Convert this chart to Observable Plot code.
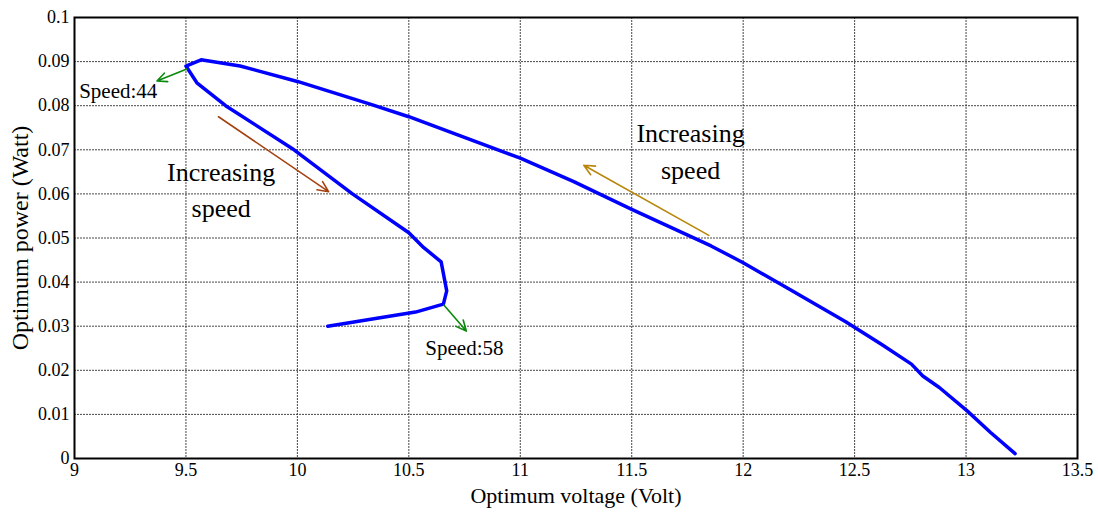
<!DOCTYPE html>
<html><head><meta charset="utf-8">
<script src="https://cdn.jsdelivr.net/npm/d3@7"></script>
<script src="https://cdn.jsdelivr.net/npm/@observablehq/plot@0.6"></script>
<style>html,body{margin:0;padding:0;background:#fff;}</style>
</head><body><div id="chart"></div>
<script>
// Curve: from the low-power end (13.22 V) up to the corner near 9.5 V, then down the inner branch
const voltage = [13.22, 13.11, 13.005, 12.88, 12.806, 12.755, 12.62, 12.46, 12.2, 12.0, 11.856, 11.5, 11.24, 11.0, 10.5, 10.33, 10.0, 9.743, 9.568, 9.5, 9.549, 9.678, 9.985, 10.247, 10.5, 10.567, 10.645, 10.67, 10.655, 10.53, 10.136];
const power   = [0.0011, 0.0059, 0.0108, 0.0161, 0.0187, 0.0214, 0.0259, 0.0310, 0.0386, 0.0444, 0.0482, 0.0565, 0.0628, 0.0681, 0.0775, 0.0803, 0.0855, 0.0890, 0.0904, 0.0890, 0.0852, 0.0800, 0.0700, 0.0600, 0.0512, 0.0478, 0.0446, 0.0380, 0.0350, 0.0332, 0.0300];

const xTicks = [9, 9.5, 10, 10.5, 11, 11.5, 12, 12.5, 13, 13.5];
const yTicks = [0, 0.01, 0.02, 0.03, 0.04, 0.05, 0.06, 0.07, 0.08, 0.09, 0.1];

// Annotation arrows (data units)
const arrowX1 = [9.504, 10.657, 9.646, 11.846];
const arrowY1 = [0.0883, 0.0348, 0.0775, 0.0506];
const arrowX2 = [9.370, 10.758, 10.140, 11.285];
const arrowY2 = [0.0856, 0.0289, 0.0605, 0.0665];
const arrowColor = ["#0a8a0a", "#0a8a0a", "#a5400f", "#b8860b"];

// Speed labels
const speedText = ["Speed:44", "Speed:58"];
const speedX = [9.021, 10.574];
const speedY = [0.0833, 0.0249];

// "Increasing speed" labels
const incText = ["Increasing", "speed", "Increasing", "speed"];
const incX = [9.658, 9.658, 11.764, 11.764];
const incY = [0.0648, 0.0566, 0.0736, 0.0652];

const curve = voltage.map((v, i) => ({v, p: power[i]}));
const arrows = arrowX1.map((x1, i) => ({x1, y1: arrowY1[i], x2: arrowX2[i], y2: arrowY2[i], c: arrowColor[i]}));
const speeds = speedText.map((t, i) => ({t, x: speedX[i], y: speedY[i]}));
const incs = incText.map((t, i) => ({t, x: incX[i], y: incY[i]}));

const serif = "'Liberation Serif','Times New Roman',serif";

const chart = Plot.plot({
  width: 1098,
  height: 512,
  marginLeft: 74,
  marginRight: 21,
  marginTop: 17,
  marginBottom: 54,
  style: {fontFamily: serif, fontSize: "18px", color: "#000", background: "#fff"},
  x: {domain: [9, 13.5]},
  y: {domain: [0, 0.1]},
  marks: [
    Plot.gridX(xTicks, {stroke: "#333", strokeOpacity: 0.9, strokeDasharray: "2,1", strokeWidth: 1}),
    Plot.gridY(yTicks, {stroke: "#333", strokeOpacity: 0.9, strokeDasharray: "2,1", strokeWidth: 1}),
    Plot.axisX(xTicks, {tickSize: 0, tickPadding: 5, tickFormat: d => String(d), label: "Optimum voltage (Volt)", labelAnchor: "center", labelArrow: "none", labelOffset: 44, fontSize: 18}),
    Plot.axisY(yTicks, {tickSize: 0, tickPadding: 5, tickFormat: d => String(d), label: "Optimum power (Watt)", labelAnchor: "center", labelArrow: "none", labelOffset: 64, fontSize: 18}),
    Plot.frame({stroke: "#000", strokeWidth: 2}),
    Plot.line(curve, {x: "v", y: "p", stroke: "#0000ff", strokeWidth: 3.5, strokeLinejoin: "round"}),
    Plot.arrow(arrows, {x1: "x1", y1: "y1", x2: "x2", y2: "y2", stroke: "c", strokeWidth: 1.6, headLength: 11, headAngle: 50}),
    Plot.text(speeds, {x: "x", y: "y", text: "t", textAnchor: "start", fontSize: 21, fill: "#000"}),
    Plot.text(incs, {x: "x", y: "y", text: "t", textAnchor: "middle", fontSize: 26, fill: "#000"})
  ]
});

d3.select(chart).selectAll('g[aria-label="x-axis label"] text').style("font-size", "22px");
d3.select(chart).selectAll('g[aria-label="y-axis label"] text').style("font-size", "24px");
document.getElementById("chart").appendChild(chart);
</script>
</body></html>
